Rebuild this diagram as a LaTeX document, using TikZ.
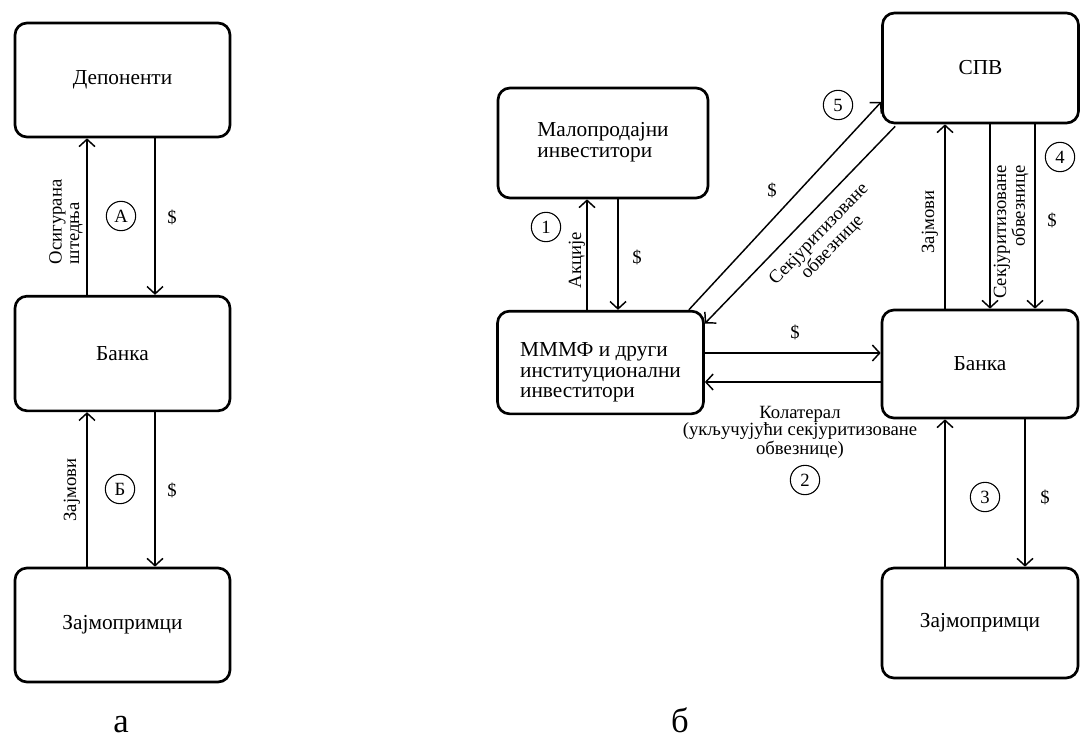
\documentclass[tikz,border=0pt]{standalone}
\usepackage{fontspec}
\setmainfont{Liberation Serif}
\usetikzlibrary{arrows.meta,calc}
\begin{document}
\begin{tikzpicture}[x=0.75pt,y=-0.75pt,
  box/.style={draw, line width=2pt, rounded corners=9pt, inner sep=0pt, align=center,
              font=\fontsize{16}{15.5}\selectfont},
  arr/.style={line width=1.1pt, -{Straight Barb[length=5.5pt,width=12pt,line width=1.1pt]}},
  lbl/.style={font=\fontsize{14}{13}\selectfont, inner sep=1pt},
  circ/.style={draw, circle, line width=0.8pt, minimum size=22pt, inner sep=0pt,
               font=\fontsize{14}{14}\selectfont},
  panelcap/.style={font=\fontsize{26}{26}\selectfont, anchor=base, inner sep=0pt}]
\useasboundingbox (0,0) rectangle (1081,738);
% ---------- panel a ----------
\node[box, minimum width=161.25pt, minimum height=85.5pt] (dep) at (122.5,80) {Депоненти};
\node[box, minimum width=161.25pt, minimum height=86pt] (ban1) at (122.5,353.5) {Банка};
\node[box, minimum width=161.25pt, minimum height=85.5pt] (zaj1) at (122.5,625) {Зајмопримци};
\coordinate (xa1) at (87,0);
\coordinate (xa2) at (155,0);
\draw[arr] (ban1.north -| xa1) -- (dep.south -| xa1);
\draw[arr] (dep.south -| xa2) -- (ban1.north -| xa2);
\draw[arr] (zaj1.north -| xa1) -- (ban1.south -| xa1);
\draw[arr] (ban1.south -| xa2) -- (zaj1.north -| xa2);
\node[lbl, rotate=90, align=left] (la1) at (66,222) {Осигурана\\штедња};
\node[circ] (cA) at (121,216) {А};
\node[lbl] (da1) at (172,217) {\$};
\node[lbl, rotate=90] (la2) at (72,490) {Зајмови};
\node[circ] (cB) at (120,489) {Б};
\node[lbl] (da2) at (172,490) {\$};
\node[panelcap] (capa) at (121,732) {а};
% ---------- panel b ----------
\node[box, minimum width=157.5pt, minimum height=82.5pt] (mal) at (603,143)
  {\begin{tabular}{@{}l@{}}Малопродајни\\инвеститори\end{tabular}};
\node[box, minimum width=154.5pt, minimum height=77pt] (mmf) at (600.5,362.5)
  {\raisebox{-8pt}[\height][\depth]{\begin{tabular}{@{}l@{}}МММФ и други\\институционални\\инвеститори\end{tabular}}};
\node[box, minimum width=147pt, minimum height=82.5pt] (spv) at (980.5,68) {СПВ};
\node[box, minimum width=147pt, minimum height=81pt] (ban2) at (980,364) {Банка};
\node[box, minimum width=147pt, minimum height=82.5pt] (zaj2) at (980,623) {Зајмопримци};
\coordinate (xb1) at (587,0);
\coordinate (xb2) at (618,0);
\draw[arr] (mmf.north -| xb1) -- (mal.south -| xb1);
\draw[arr] (mal.south -| xb2) -- (mmf.north -| xb2);
\coordinate (yh1) at (0,353);
\coordinate (yh2) at (0,382);
\draw[arr] (mmf.east |- yh1) -- (ban2.west |- yh1);
\draw[arr] (ban2.west |- yh2) -- (mmf.east |- yh2);
\coordinate (xc1) at (945,0);
\coordinate (xc2) at (990,0);
\coordinate (xc3) at (1035,0);
\coordinate (xc4) at (1025,0);
\draw[arr] (ban2.north -| xc1) -- (spv.south -| xc1);
\draw[arr] (spv.south -| xc2) -- (ban2.north -| xc2);
\draw[arr] (spv.south -| xc3) -- (ban2.north -| xc3);
\draw[arr] (zaj2.north -| xc1) -- (ban2.south -| xc1);
\draw[arr] (ban2.south -| xc4) -- (zaj2.north -| xc4);
\draw[arr] ($(mmf.north east)+(-16,0)$) -- ($(spv.west)+(0,34)$);
\draw[arr] ($(spv.south west)+(14,2)$) -- ($(mmf.east)+(0,-39)$);
% labels
\node[circ] (c1) at (546,227) {1};
\node[lbl, rotate=90] (l1) at (577,260) {Акције};
\node[lbl] (d1) at (637,257) {\$};
\node[lbl] (d5) at (772,190) {\$};
\node[lbl, rotate=46, align=center] (l5) at (826,241) {Секјуритизоване\\обвезнице};
\node[circ] (c5) at (838,105) {5};
\node[lbl] (d2) at (795,332) {\$};
\node[lbl, align=center] (l2) at (800,432) {Колатерал\\(укључујући секјуритизоване\\обвезнице)};
\node[circ] (c2) at (805,480) {2};
\node[lbl, rotate=90] (l4a) at (930,222) {Зајмови};
\node[lbl, rotate=90, align=right] (l4b) at (1011,232) {Секјуритизоване\\обвезнице};
\node[lbl] (d4) at (1052,220) {\$};
\node[circ] (c4) at (1060,157) {4};
\node[circ] (c3) at (985,497) {3};
\node[lbl] (d3) at (1045,497) {\$};
\node[panelcap] (capb) at (680,732) {б};
\end{tikzpicture}
\end{document}
